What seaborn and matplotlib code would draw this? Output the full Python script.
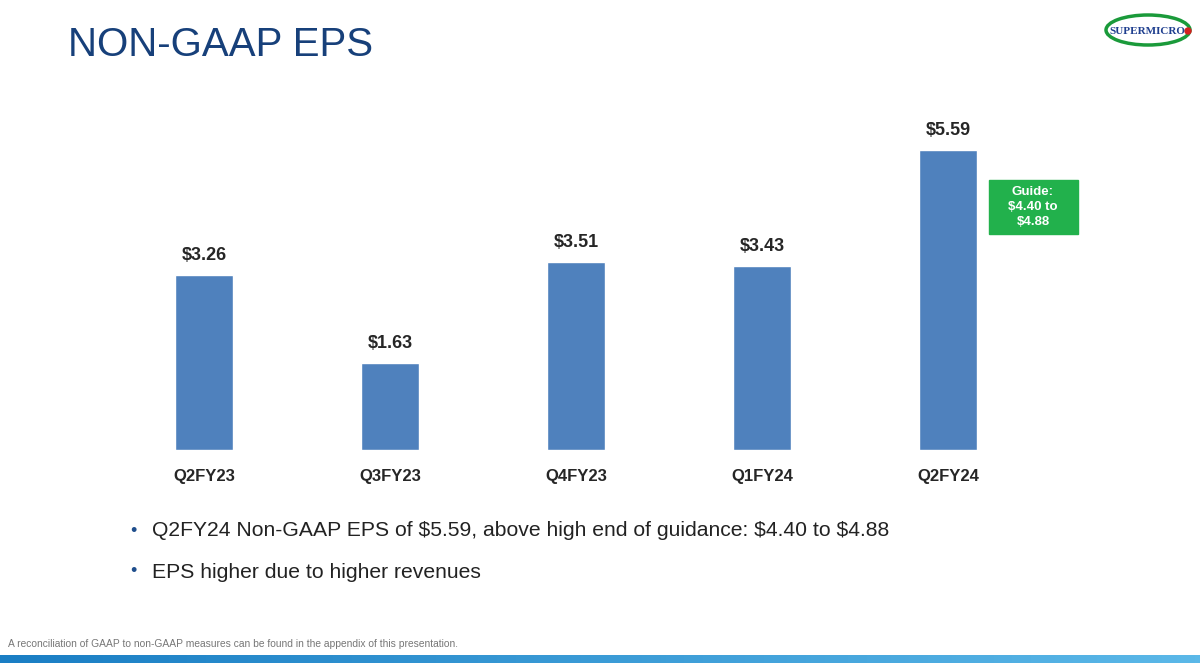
import matplotlib
matplotlib.use("Agg")
import matplotlib.pyplot as plt
import seaborn as sns
import pandas as pd
from matplotlib.patches import Ellipse, Rectangle, Circle
import numpy as np

quarters = ['Q2FY23', 'Q3FY23', 'Q4FY23', 'Q1FY24', 'Q2FY24']
eps = [3.26, 1.63, 3.51, 3.43, 5.59]
bullets = ['Q2FY24 Non-GAAP EPS of $5.59, above high end of guidance: $4.40 to $4.88',
           'EPS higher due to higher revenues']
footnote = 'A reconciliation of GAAP to non-GAAP measures can be found in the appendix of this presentation.'

sns.set_style("white")
plt.rcParams['font.family'] = ['Liberation Sans', 'DejaVu Sans']

W, H = 1200, 663
fig = plt.figure(figsize=(12, 6.63), dpi=100)

def fx(x): return x / W
def fy(y): return 1 - y / H

fig.text(fx(68), fy(45), 'NON-GAAP EPS', fontsize=29, color='#17407a', va='center')

# logo
la = fig.add_axes([fx(1104), fy(50), fx(90), 40 / H])
la.set_xlim(0, 90); la.set_ylim(0, 40); la.axis('off')
la.add_patch(Ellipse((44, 20), 84, 30, fill=False, ec='#1a9a3a', lw=2.5))
la.text(43, 19, 'SUPERMICRO', fontsize=8, family='Liberation Serif', color='#1f3f8f',
        ha='center', va='center', fontweight='bold')
la.add_patch(Circle((84, 19), 3, color='#d42020'))

ax = fig.add_axes([fx(111), fy(450), fx(930), (450 - 128) / H])
df = pd.DataFrame({'q': quarters, 'eps': eps})
sns.barplot(data=df, x='q', y='eps', color='#4f81bd', saturation=1, width=0.31, ax=ax)
ax.set_xlim(-0.5, 4.5); ax.set_ylim(0, 6)
ax.set_xlabel(''); ax.set_ylabel('')
ax.set_yticks([])
sns.despine(ax=ax, left=True, bottom=True)
ax.tick_params(axis='x', length=0, pad=14)
for t in ax.get_xticklabels():
    t.set_fontweight('bold'); t.set_fontsize(12)
for i, v in enumerate(eps):
    ax.text(i, v + 0.2, f'${v:.2f}', ha='center', va='bottom', fontsize=13, fontweight='bold')

# guidance box
fig.patches.append(Rectangle((fx(989), fy(234)), fx(89), 54 / H, transform=fig.transFigure,
                             color='#22b14c'))
fig.text(fx(1033), fy(207), 'Guide:\n$4.40 to\n$4.88', color='white', fontsize=9.5,
         fontweight='bold', ha='center', va='center', linespacing=1.3)

for i, b in enumerate(bullets):
    y = 531 + i * 41
    fig.text(fx(130), fy(y), '•', fontsize=13, color='#1f4e8c', va='center')
    fig.text(fx(152), fy(y), b, fontsize=15.2, color='#222222', va='center')

fig.text(fx(8), fy(644), footnote, fontsize=7.4, color='#777777', va='center')

# gradient band at bottom
ga = fig.add_axes([0, 0, 1, 8 / H]); ga.axis('off')
ga.imshow(np.linspace(0, 1, 256)[None, :], aspect='auto',
          cmap=matplotlib.colors.LinearSegmentedColormap.from_list('b', ['#1a7ec4', '#5bb8e8']))

fig.savefig('out.png', dpi=100)
